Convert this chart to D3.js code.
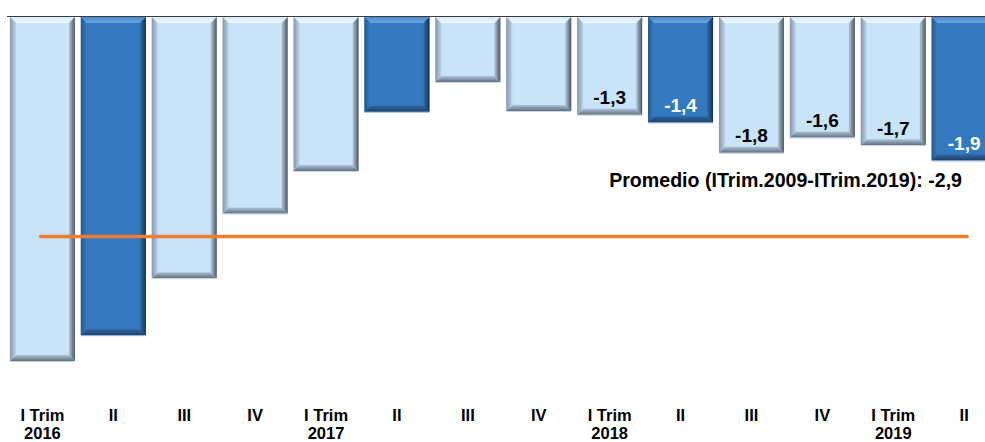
<!DOCTYPE html>
<html>
<head>
<meta charset="utf-8">
<script src="https://cdn.jsdelivr.net/npm/d3@7"></script>
<style>
  html, body { margin: 0; padding: 0; background: #ffffff; }
  svg { display: block; }
  text { font-family: "Liberation Sans", Arial, sans-serif; font-weight: bold; }
</style>
</head>
<body>
<svg id="chart" width="985" height="442"></svg>
<script>
// Quarterly balance (% of GDP), I Trim 2016 – II Trim 2019
const quarters = ["I Trim", "II", "III", "IV", "I Trim", "II", "III", "IV",
                  "I Trim", "II", "III", "IV", "I Trim", "II"];
const years    = ["2016", "", "", "", "2017", "", "", "",
                  "2018", "", "", "", "2019", ""];
const values   = [-4.54, -4.2, -3.45, -2.6, -2.04, -1.26, -0.87, -1.25,
                  -1.3, -1.4, -1.8, -1.6, -1.7, -1.9];
// Which quarters carry a value label (from I Trim 2018 onward)
const labelled = [false, false, false, false, false, false, false, false,
                  true, true, true, true, true, true];
const average = -2.9;
const averageLabel = "Promedio (ITrim.2009-ITrim.2019): -2,9";

const svg = d3.select("#chart");
const W = 985, H = 442;

const idx = d3.range(values.length);
const x = d3.scaleBand()
  .domain(idx)
  .range([7, 7 + 14 * 70.9])
  .paddingInner(0.083)
  .paddingOuter(0.0415);

const y = d3.scaleLinear()
  .domain([0, -5])
  .range([16, 16 + 5 * 76]);

const fmt = d3.formatLocale({ decimal: ",", thousands: ".", grouping: [3],
                              currency: ["", ""], minus: "-" }).format(".1f");

// Second quarters are highlighted in a darker blue
const isDark = i => quarters[i] === "II";

// Bevel gradients
const defs = svg.append("defs");
function grad(id, dir, c0, c1) {
  const g = defs.append("linearGradient").attr("id", id);
  const v = { top: [0, 0, 0, 1], bottom: [0, 1, 0, 0], left: [0, 0, 1, 0], right: [1, 0, 0, 0] }[dir];
  g.attr("x1", v[0]).attr("y1", v[1]).attr("x2", v[2]).attr("y2", v[3]);
  g.append("stop").attr("offset", 0).attr("stop-color", c0);
  g.append("stop").attr("offset", 1).attr("stop-color", c1);
}
const palette = {
  light: { face: "#c9e3f9", top: ["#d6ebfd", "#eef7ff"], left: ["#8497aa", "#bdd4ea"],
           right: ["#4b5561", "#b2c8dc"], bottom: ["#5f6f80", "#aec3d7"] },
  dark:  { face: "#3479bf", top: ["#4a8ad0", "#6aa6e2"], left: ["#24588e", "#3a7cbf"],
           right: ["#17324f", "#2f6cab"], bottom: ["#1f416a", "#2d65a0"] }
};
Object.entries(palette).forEach(([k, p]) => {
  ["top", "left", "right", "bottom"].forEach(side => grad(`${k}-${side}`, side, p[side][0], p[side][1]));
});

// Bars
const bars = svg.append("g").selectAll("g.bar")
  .data(idx)
  .join("g")
  .attr("class", "bar");

bars.each(function (i) {
  const g = d3.select(this);
  const kind = isDark(i) ? "dark" : "light";
  const x0 = x(i), x1 = x(i) + x.bandwidth();
  const y0 = y(0) + 1, y1 = y(values[i]);
  const b = 6;
  g.append("rect")
    .attr("x", x0).attr("y", y0)
    .attr("width", x1 - x0).attr("height", y1 - y0)
    .attr("fill", palette[kind].face);
  const polys = {
    top:    [[x0, y0], [x1, y0], [x1 - b, y0 + b], [x0 + b, y0 + b]],
    bottom: [[x0, y1], [x1, y1], [x1 - b, y1 - b], [x0 + b, y1 - b]],
    left:   [[x0, y0], [x0 + b, y0 + b], [x0 + b, y1 - b], [x0, y1]],
    right:  [[x1, y0], [x1 - b, y0 + b], [x1 - b, y1 - b], [x1, y1]]
  };
  Object.entries(polys).forEach(([side, pts]) => {
    g.append("polygon")
      .attr("points", pts.map(p => p.join(",")).join(" "))
      .attr("fill", `url(#${kind}-${side})`);
  });
  // faint light rim under the bar
  g.append("line")
    .attr("x1", x0).attr("x2", x1)
    .attr("y1", y1 + 0.5).attr("y2", y1 + 0.5)
    .attr("stroke", isDark(i) ? "#8fb4da" : "#c8d6e4")
    .attr("stroke-width", 1);
});

// Zero line
svg.append("line")
  .attr("x1", 7).attr("x2", W)
  .attr("y1", y(0) + 0.5).attr("y2", y(0) + 0.5)
  .attr("stroke", "#3a3a3a")
  .attr("stroke-width", 1.2);

// Average line
const cx = i => x(i) + x.bandwidth() / 2;
svg.append("line")
  .attr("x1", cx(0) - 2).attr("x2", cx(values.length - 1) + 3)
  .attr("y1", y(average)).attr("y2", y(average))
  .attr("stroke", "#ed7d31")
  .attr("stroke-width", 3.5)
  .attr("stroke-linecap", "round");

svg.append("text")
  .attr("x", 962).attr("y", 187)
  .attr("text-anchor", "end")
  .attr("font-size", 19.6)
  .attr("fill", "#000")
  .text(averageLabel);

// Value labels
svg.append("g").selectAll("text")
  .data(idx.filter(i => labelled[i]))
  .join("text")
  .attr("x", i => cx(i))
  .attr("y", i => y(values[i]) - 10.5)
  .attr("text-anchor", "middle")
  .attr("font-size", 19)
  .attr("fill", i => isDark(i) ? "#ffffff" : "#000000")
  .text(i => fmt(values[i]));

// Category axis
const axis = svg.append("g")
  .attr("transform", `translate(0, 400)`)
  .call(d3.axisBottom(x).tickSize(0).tickFormat(() => ""));
axis.select(".domain").remove();
axis.selectAll(".tick").each(function (i) {
  const t = d3.select(this).append("text")
    .attr("text-anchor", "middle")
    .attr("font-size", 16.5)
    .attr("fill", "#000");
  t.append("tspan").attr("x", 0).attr("y", 20.5).text(quarters[i]);
  if (years[i]) t.append("tspan").attr("x", 0).attr("y", 39).text(years[i]);
});
</script>
</body>
</html>
